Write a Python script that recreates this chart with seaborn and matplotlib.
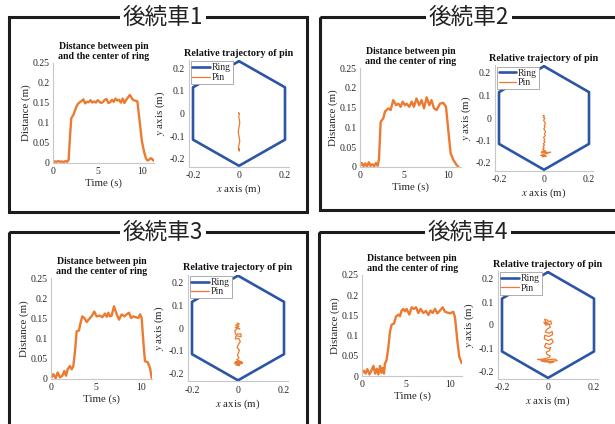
import matplotlib
matplotlib.use("Agg")
import matplotlib.pyplot as plt
import numpy as np
import pandas as pd
import seaborn as sns
from matplotlib.patches import Rectangle

# ---------------- data ----------------
panel_titles = ["後続車1", "後続車2", "後続車3", "後続車4"]

time1 = [0.0, 0.2, 0.4, 0.6, 0.8, 1.0, 1.2, 1.4, 1.6, 1.75, 1.9, 2.05, 2.3, 2.6, 2.8,
         3.0, 3.2, 3.4, 3.6, 3.8, 4.0, 4.2, 4.4, 4.6, 4.8, 5.0, 5.2, 5.4, 5.6, 5.8, 6.0,
         6.2, 6.4, 6.6, 6.8, 7.0, 7.2, 7.4, 7.6, 7.8, 8.0, 8.2, 8.4, 8.6, 8.8, 9.0, 9.2,
         9.45, 9.7, 9.95, 10.2, 10.4, 10.6, 10.8, 10.95, 11.1, 11.25]
dist1 = [0.002, 0.004, 0.003, 0.005, 0.003, 0.004, 0.002, 0.005, 0.003,
         0.008, 0.065, 0.112, 0.121, 0.140, 0.148,
         0.152, 0.155, 0.159, 0.149, 0.153, 0.152, 0.157, 0.151, 0.154, 0.151, 0.157,
         0.153, 0.150, 0.153, 0.158, 0.160, 0.150, 0.152, 0.158, 0.153, 0.161, 0.156,
         0.158, 0.151, 0.161, 0.150, 0.158, 0.164, 0.170, 0.163, 0.157, 0.156,
         0.154, 0.105, 0.055, 0.028, 0.012, 0.006, 0.009, 0.012, 0.010, 0.006]

time2 = [0.0, 0.2, 0.4, 0.6, 0.8, 1.0, 1.2, 1.4, 1.6, 1.8, 2.0,
         2.15, 2.34, 2.64, 2.83, 3.2, 3.47, 3.77, 4.08, 4.34, 4.6, 4.83, 5.1, 5.28,
         5.58, 5.85, 6.1, 6.4, 6.7, 6.98, 7.25, 7.55, 7.85, 8.1, 8.38, 8.68, 9.06,
         9.43, 9.74, 10.0, 10.26, 10.57, 10.94, 11.13]
dist2 = [0.003, 0.010, 0.002, 0.009, 0.001, 0.012, 0.003, 0.007, 0.002, 0.010, 0.003,
         0.020, 0.114, 0.123, 0.140, 0.148, 0.144, 0.169, 0.156, 0.160, 0.152, 0.165,
         0.156, 0.160, 0.152, 0.165, 0.152, 0.173, 0.156, 0.169, 0.148, 0.176, 0.156,
         0.169, 0.148, 0.144, 0.160, 0.162, 0.152, 0.093, 0.035, 0.018, 0.005, 0.001]

time3 = [0.0, 0.26, 0.52, 0.74, 1.0, 1.26, 1.48, 1.67, 1.85, 2.1, 2.3, 2.48, 2.67,
         2.85, 3.1, 3.33, 3.48, 3.7, 3.96, 4.3, 4.6, 4.8, 5.07, 5.4, 5.7, 6.0, 6.2,
         6.37, 6.55, 6.74, 7.0, 7.3, 7.56, 7.85, 8.15, 8.4, 8.67, 8.9, 9.15, 9.4, 9.7,
         9.9, 10.07, 10.26, 10.44, 10.74, 11.0, 11.2]
dist3 = [0.002, 0.012, 0.002, 0.016, 0.004, 0.008, 0.020, 0.008, 0.024, 0.032, 0.024,
         0.032, 0.069, 0.118, 0.120, 0.143, 0.155, 0.151, 0.141, 0.150, 0.158, 0.167,
         0.155, 0.157, 0.153, 0.162, 0.154, 0.164, 0.155, 0.157, 0.180, 0.160, 0.147,
         0.160, 0.155, 0.160, 0.164, 0.151, 0.155, 0.153, 0.151, 0.160, 0.151, 0.093,
         0.044, 0.042, 0.027, 0.002]

time4 = [0.0, 0.23, 0.4, 0.61, 0.85, 1.1, 1.3, 1.5, 1.67, 1.85, 2.05, 2.2, 2.35, 2.5,
         2.6, 2.8, 2.99, 3.18, 3.37, 3.64, 3.86, 4.13, 4.32, 4.5, 4.7, 4.88, 5.07, 5.38,
         5.64, 5.9, 6.14, 6.4, 6.66, 6.97, 7.27, 7.54, 7.8, 8.03, 8.3, 8.56, 8.86, 9.17,
         9.43, 9.7, 10.0, 10.38, 10.57, 10.83, 11.06, 11.33]
dist4 = [0.008, 0.013, 0.006, 0.017, 0.004, 0.015, 0.025, 0.006, 0.018, 0.004, 0.025,
         0.008, 0.020, 0.006, 0.030, 0.040, 0.070, 0.110, 0.127, 0.130, 0.147, 0.152,
         0.148, 0.162, 0.166, 0.160, 0.166, 0.152, 0.170, 0.166, 0.170, 0.156, 0.166,
         0.156, 0.161, 0.151, 0.162, 0.156, 0.166, 0.155, 0.162, 0.170, 0.159, 0.157,
         0.155, 0.159, 0.145, 0.088, 0.047, 0.032]

# hexagonal ring outline (closed)
ring_x = [0.0, 0.2, 0.2, 0.0, -0.2, -0.2, 0.0]
ring_y = [0.23, 0.115, -0.115, -0.23, -0.115, 0.115, 0.23]

pin_x1 = [0.001, -0.002, 0.002, -0.001, 0.000, 0.002, 0.003, 0.002, 0.000, -0.002,
          -0.003, -0.002, 0.000, 0.002, 0.003, 0.002, 0.000, -0.002, -0.002, 0.000,
          0.002, -0.002, 0.002, 0.000]
pin_y1 = [0.000, 0.003, -0.002, -0.010, -0.020, -0.030, -0.040, -0.050, -0.060, -0.070,
          -0.080, -0.090, -0.100, -0.110, -0.120, -0.130, -0.138, -0.146, -0.152, -0.158,
          -0.154, -0.160, -0.165, -0.158]

pin_x2 = [-0.004, 0.002, -0.003, 0.004, -0.002, 0.003, 0.006, 0.001, 0.005, -0.001,
          0.004, 0.007, 0.002, 0.006, -0.002, 0.003, 0.000, 0.004, -0.003, 0.002, -0.004,
          0.001, -0.006, 0.004, -0.010, 0.008, -0.012, 0.030, 0.005, -0.015, 0.010,
          -0.008, 0.004]
pin_y2 = [0.012, 0.008, 0.003, -0.002, -0.010, -0.018, -0.026, -0.033, -0.040, -0.048,
          -0.056, -0.063, -0.070, -0.078, -0.086, -0.094, -0.100, -0.107, -0.114, -0.120,
          -0.127, -0.133, -0.139, -0.145, -0.150, -0.148, -0.155, -0.152, -0.160, -0.166,
          -0.170, -0.172, -0.168]

pin_x3 = [-0.004, 0.006, -0.010, 0.004, -0.012, 0.008, 0.000, -0.014, -0.010, 0.012,
          0.014, -0.008, -0.012, 0.004, 0.010, 0.002, -0.004, 0.006, 0.002, -0.003,
          0.004, 0.000, -0.006, 0.008, -0.012, 0.016, -0.016, 0.012, 0.020, -0.010,
          0.006, -0.004]
pin_y3 = [0.022, 0.018, 0.012, 0.008, 0.002, -0.004, 0.000, -0.012, -0.028, -0.025,
          -0.038, -0.034, -0.048, -0.046, -0.060, -0.072, -0.085, -0.098, -0.110, -0.120,
          -0.130, -0.136, -0.140, -0.145, -0.150, -0.148, -0.155, -0.158, -0.153, -0.162,
          -0.165, -0.160]

pin_x4 = [0.000, -0.015, -0.008, 0.012, 0.015, -0.010, -0.018, 0.005, 0.010, -0.004,
          -0.012, 0.006, 0.018, 0.020, 0.004, -0.014, -0.016, 0.002, 0.016, 0.022,
          0.008, -0.010, -0.015, 0.000, 0.012, 0.006, -0.008, -0.004, 0.010, 0.004,
          -0.020, -0.045, -0.010, 0.030, 0.040, 0.010, -0.030, -0.015, 0.025, 0.005]
pin_y4 = [0.020, 0.025, 0.010, 0.018, 0.005, 0.000, 0.012, 0.002, -0.010, -0.018,
          -0.030, -0.036, -0.028, -0.042, -0.050, -0.045, -0.060, -0.068, -0.060, -0.075,
          -0.085, -0.080, -0.095, -0.102, -0.098, -0.112, -0.118, -0.128, -0.135, -0.142,
          -0.148, -0.150, -0.152, -0.148, -0.155, -0.158, -0.155, -0.160, -0.162, -0.165]

dist_yticks = [0, 0.05, 0.1, 0.15, 0.2, 0.25]
dist_yticklabels = ["0", "0.05", "0.1", "0.15", "0.2", "0.25"]
time_ticks = [0, 5, 10]
traj_xticks = [-0.2, 0, 0.2]
traj_xticklabels = ["-0.2", "0", "0.2"]
traj_yticks = [-0.2, -0.1, 0, 0.1, 0.2]
traj_yticklabels = ["-0.2", "-0.1", "0", "0.1", "0.2"]

times = [time1, time2, time3, time4]
dists = [dist1, dist2, dist3, dist4]
pins = [(pin_x1, pin_y1), (pin_x2, pin_y2), (pin_x3, pin_y3), (pin_x4, pin_y4)]

# ---------------- style ----------------
sns.set_theme(style="white")
plt.rcParams["font.family"] = ["Liberation Serif", "DejaVu Serif"]
plt.rcParams["mathtext.fontset"] = "stix"
plt.rcParams["axes.unicode_minus"] = False

ORANGE = "#ec7a30"
BLUE = "#2c55a6"
SPINE = "#c8c8c8"
TXT = "#262626"
CJK = ["Noto Sans CJK JP", "DejaVu Sans"]

W, H = 615, 424
fig = plt.figure(figsize=(W / 100, H / 100), dpi=100)
fig.patch.set_facecolor("white")


def box_axes(left, top, right, bottom):
    """Axes placed by pixel edges measured from the top-left corner."""
    return fig.add_axes([left / W, 1 - bottom / H, (right - left) / W, (bottom - top) / H])


# overlay in pixel units for panel frames and panel headings
ov = fig.add_axes([0, 0, 1, 1], zorder=0)
ov.set_xlim(0, W)
ov.set_ylim(H, 0)
ov.axis("off")

frames = [(8.5, 17, 307, 212), (320, 17, 640, 210), (8.5, 232, 307, 460), (318.5, 232, 640, 460)]
heading_pos = [(163, 17), (469, 17), (163, 232), (468, 232)]
for (l, t, r, b), (hx, hy), title in zip(frames, heading_pos, panel_titles):
    ov.add_patch(Rectangle((l, t), r - l, b - t, fill=False, edgecolor="#1c1c1c",
                           linewidth=2.2, clip_on=False))
    ov.text(hx, hy, title, family=CJK, fontsize=16.3, color="#222222", ha="center",
            va="center", bbox=dict(boxstyle="square,pad=0.12", facecolor="white",
                                   edgecolor="none"))

# per-panel axes layout (pixels)
dist_layout = [  # left, top, bottom, pixels per second, x max
    (53, 63, 163, 8.93, 11.3),
    (360, 68, 167, 8.83, 11.4),
    (51, 278, 379, 9.0, 11.25),
    (362, 275, 376, 8.8, 11.4),
]
traj_layout = [  # x of zero, y of zero, px per metre (x), px per metre (y)
    (239, 113.5, 230, 227.5),
    (544, 118, 225, 225),
    (238, 328, 230, 227.5),
    (548, 325, 230, 230),
]
TXLIM = (-0.217, 0.217)
TYLIM = (-0.235, 0.235)


def style_axes(ax):
    sns.despine(ax=ax)
    for s in ("left", "bottom"):
        ax.spines[s].set_color(SPINE)
        ax.spines[s].set_linewidth(0.8)
    ax.set_facecolor("none")
    ax.tick_params(direction="in", length=2, width=0.6, color=SPINE,
                   labelsize=7, labelcolor=TXT)
    ax.tick_params(axis="x", pad=3.2)
    ax.tick_params(axis="y", pad=2.3)


for i in range(4):
    # distance vs time
    l, t, b, pps, xmax = dist_layout[i]
    ax = box_axes(l, t, l + pps * xmax, b)
    df = pd.DataFrame({"Time": times[i], "Distance": dists[i]})
    sns.lineplot(data=df, x="Time", y="Distance", ax=ax, color=ORANGE, linewidth=1.7)
    ax.set_xlim(0, xmax)
    ax.set_ylim(0, 0.25)
    ax.set_xticks(time_ticks)
    ax.set_xticklabels([str(v) for v in time_ticks])
    ax.set_yticks(dist_yticks)
    ax.set_yticklabels(dist_yticklabels)
    style_axes(ax)
    ax.set_xlabel("Time (s)", fontsize=7.8, color=TXT, labelpad=1.2)
    ax.set_ylabel("Distance (m)", fontsize=7.8, color=TXT, labelpad=1.5)
    ax.set_title("Distance between pin\nand the center of ring", fontsize=7.1,
                 fontweight="bold", color="#111111", pad=3, linespacing=1.05)

    # relative trajectory
    x0, y0, sx, sy = traj_layout[i]
    ax2 = box_axes(x0 + TXLIM[0] * sx, y0 - TYLIM[1] * sy, x0 + TXLIM[1] * sx, y0 - TYLIM[0] * sy)
    px, py = pins[i]
    sns.lineplot(x=ring_x, y=ring_y, ax=ax2, sort=False, estimator=None, color=BLUE,
                 linewidth=1.9, label="Ring")
    sns.lineplot(x=px, y=py, ax=ax2, sort=False, estimator=None, color=ORANGE,
                 linewidth=0.9, label="Pin")
    ax2.set_xlim(*TXLIM)
    ax2.set_ylim(*TYLIM)
    ax2.set_xticks(traj_xticks)
    ax2.set_xticklabels(traj_xticklabels)
    ax2.set_yticks(traj_yticks)
    ax2.set_yticklabels(traj_yticklabels)
    style_axes(ax2)
    ax2.tick_params(axis="y", pad=3)
    ax2.set_xlabel("$x$ axis (m)", fontsize=7.8, color=TXT, labelpad=1.8)
    ax2.set_ylabel("$y$ axis (m)", fontsize=7.8, color=TXT, labelpad=1.5)
    ax2.set_title("Relative trajectory of pin", fontsize=7.3, fontweight="bold",
                  color="#111111", pad=3)
    leg = ax2.legend(loc="upper left", fontsize=7, frameon=True, fancybox=False,
                     framealpha=1, edgecolor="#a0a0a0", borderpad=0.2,
                     labelspacing=0.05, handlelength=1.8, handletextpad=0.2,
                     borderaxespad=0.15)
    leg.get_frame().set_linewidth(0.6)
    for txt in leg.get_texts():
        txt.set_color(TXT)

fig.savefig("out.png", dpi=100, facecolor="white")
